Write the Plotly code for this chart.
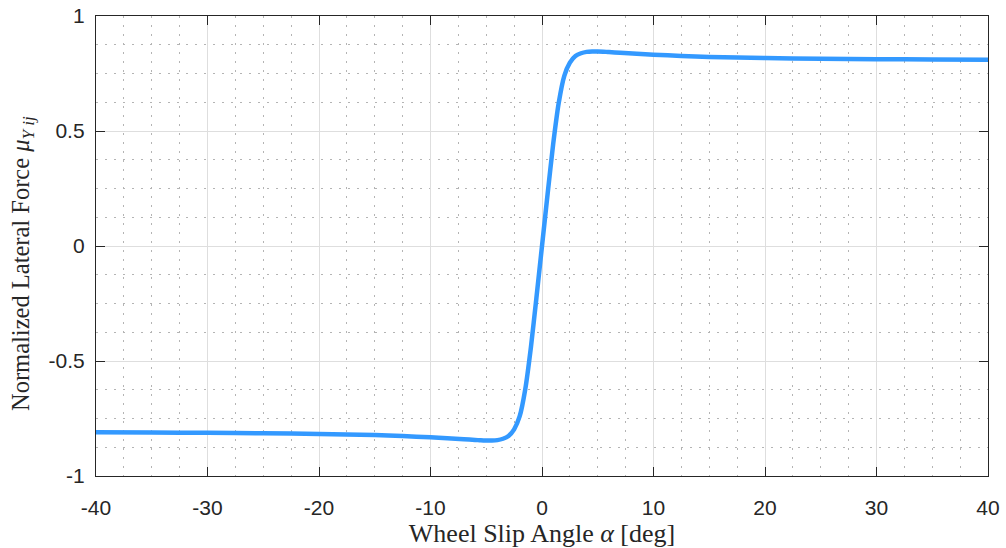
import plotly.graph_objects as go

# Normalized lateral tyre force vs. wheel slip angle (sampled curve)
slip_angle_deg = [
    -40, -35, -30, -25, -20, -15, -12.5, -10, -8.5, -7, -6, -5.5, -5, -4.5, -4,
    -3.5, -3, -2.5, -2, -1.5, -1, -0.5, 0,
    0.5, 1, 1.5, 2, 2.5, 3, 3.5, 4, 4.5, 5, 5.5, 6, 7, 8.5, 10, 12.5, 15,
    20, 25, 30, 35, 40,
]
mu_y = [
    -0.810, -0.811, -0.812, -0.814, -0.817, -0.822, -0.826, -0.832, -0.836, -0.840,
    -0.843, -0.845, -0.846, -0.846, -0.844,
    -0.838, -0.826, -0.797, -0.740, -0.622, -0.442, -0.225, 0.000,
    0.225, 0.442, 0.622, 0.740, 0.797, 0.826, 0.838, 0.844, 0.846, 0.846, 0.845,
    0.843, 0.840, 0.836, 0.832, 0.826, 0.822,
    0.817, 0.814, 0.812, 0.811, 0.810,
]

x_ticks = [-40, -30, -20, -10, 0, 10, 20, 30, 40]
x_tick_text = ["-40", "-30", "-20", "-10", "0", "10", "20", "30", "40"]
y_ticks = [-1, -0.5, 0, 0.5, 1]
y_tick_text = ["-1", "-0.5", "0", "0.5", "1"]

AX_COLOR = "#262626"
GRID_MAJOR = "#dedede"
GRID_MINOR = "#b4b4b4"
TICK_FONT = dict(family="Liberation Sans, Arial, sans-serif", size=21, color=AX_COLOR)
SERIF = "Liberation Serif, Times New Roman, serif"

fig = go.Figure()
fig.add_trace(go.Scatter(
    x=slip_angle_deg, y=mu_y, mode="lines",
    line=dict(color="#3399ff", width=4.5, shape="spline", smoothing=0.6),
    showlegend=False, hoverinfo="skip",
))

common_axis = dict(
    showline=True, linecolor=AX_COLOR, linewidth=1.3, mirror="ticks",
    ticks="inside", ticklen=9, tickwidth=1.3, tickcolor=AX_COLOR,
    showgrid=True, gridcolor=GRID_MAJOR, gridwidth=1,
    zeroline=False, tickfont=TICK_FONT, automargin=False,
)

fig.update_xaxes(
    **common_axis,
    range=[-40, 40], tickmode="array", tickvals=x_ticks, ticktext=x_tick_text,
    ticklabelstandoff=13,
    minor=dict(dtick=2.5, showgrid=True, gridcolor=GRID_MINOR, gridwidth=1,
               griddash="2px,7px", ticks=""),
    title=dict(text="Wheel Slip Angle <i>α</i> [deg]", standoff=3,
               font=dict(family=SERIF, size=26, color=AX_COLOR)),
)
fig.update_yaxes(
    **common_axis,
    range=[-1, 1], tickmode="array", tickvals=y_ticks, ticktext=y_tick_text,
    ticklabelstandoff=6,
    minor=dict(dtick=0.125, showgrid=True, gridcolor=GRID_MINOR, gridwidth=1,
               griddash="2px,7px", ticks=""),
)

# y-axis label, placed slightly below the vertical centre of the plot area
fig.add_annotation(
    text="Normalized Lateral Force <i>μ</i><sub><i>Y ij</i></sub>",
    xref="paper", yref="paper", x=-0.083, y=0.463,
    xanchor="center", yanchor="middle", textangle=-90, showarrow=False,
    font=dict(family=SERIF, size=24.5, color=AX_COLOR),
)

fig.update_layout(
    width=1006, height=548,
    margin=dict(l=96, r=18, t=16, b=72),
    paper_bgcolor="white", plot_bgcolor="white",
)

fig.write_html("out.html")
